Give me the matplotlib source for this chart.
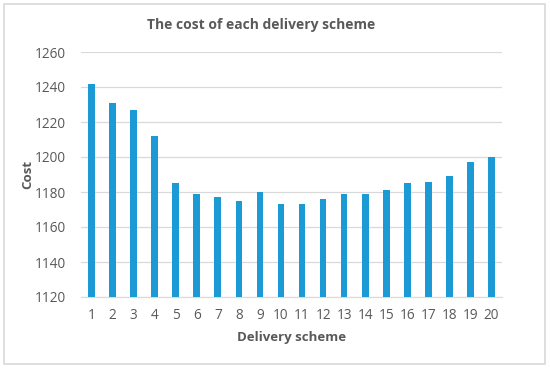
import matplotlib.pyplot as plt
from matplotlib.patches import Rectangle

# values
schemes = list(range(1, 21))
cost = [1242, 1231, 1227, 1212, 1185, 1179, 1177, 1175, 1180, 1173,
        1173, 1176, 1179, 1179, 1181, 1185, 1186, 1189, 1197, 1200]
y_ticks = [1120, 1140, 1160, 1180, 1200, 1220, 1240, 1260]

BAR_COLOR = "#1B9AD6"
TEXT_COLOR = "#595959"
GRID_COLOR = "#D9D9D9"

plt.rcParams["font.family"] = ["Open Sans", "DejaVu Sans"]

fig = plt.figure(figsize=(5.5, 3.68), dpi=100)
ax = fig.add_axes([81 / 550, 1 - 297 / 368, 421 / 550, 245 / 368])

ax.bar(schemes, cost, width=0.32, color=BAR_COLOR, zorder=3)
ax.set_xlim(0.5, 20.5)
ax.set_ylim(y_ticks[0], y_ticks[-1])
ax.set_yticks(y_ticks)
ax.set_xticks(schemes)
ax.set_xticklabels([str(s) for s in schemes])

ax.grid(axis="y", color=GRID_COLOR, linewidth=0.9, zorder=0)
for side in ["top", "right", "left"]:
    ax.spines[side].set_visible(False)
ax.spines["bottom"].set_color(GRID_COLOR)
ax.tick_params(axis="both", length=0, colors=TEXT_COLOR, labelsize=9.8)
ax.tick_params(axis="x", pad=8)
ax.tick_params(axis="y", pad=11)

ax.set_xlabel("Delivery scheme", fontsize=9.5, fontweight="bold",
              color=TEXT_COLOR, labelpad=6)
ax.set_ylabel("Cost", fontsize=9.5, fontweight="bold", color=TEXT_COLOR)
ax.yaxis.set_label_coords(-0.11, 0.5)
fig.text(261 / 550, 1 - 25 / 368, "The cost of each delivery scheme",
         ha="center", va="center", fontsize=10, fontweight="bold",
         color=TEXT_COLOR)

# light frame round the whole chart
fig.patches.append(Rectangle((4 / 550, 4 / 368), 541 / 550, 360 / 368,
                             transform=fig.transFigure, fill=False,
                             edgecolor=GRID_COLOR, linewidth=1.2))

fig.savefig("out.png", dpi=100)
